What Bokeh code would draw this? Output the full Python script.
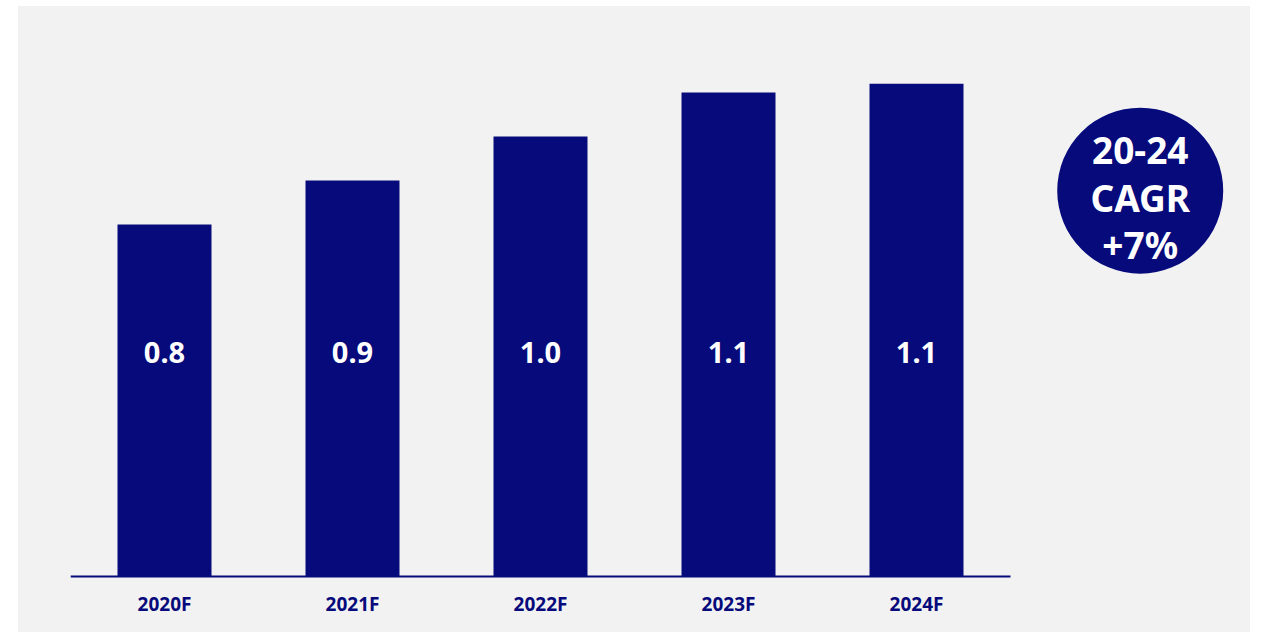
from bokeh.plotting import figure
from bokeh.models import Range1d, FixedTicker, ColumnDataSource
from bokeh.core.properties import value
from bokeh.embed import file_html
from bokeh.resources import INLINE

# ---- data ----
years = ["2020F", "2021F", "2022F", "2023F", "2024F"]
values = [0.80, 0.90, 1.00, 1.10, 1.12]
value_labels = ["0.8", "0.9", "1.0", "1.1", "1.1"]
cagr_lines = ["20-24", "CAGR", "+7%"]

NAVY = "#060A7B"
GRAY = "#F2F2F2"
FONT = "Noto Sans"

xs = list(range(len(years)))
src = ColumnDataSource(dict(x=xs, top=values, lab=value_labels,
                            ly=[0.51] * len(xs)))

p = figure(width=1232, height=626, output_backend="svg", toolbar_location=None,
           x_range=Range1d(-0.5, 5.7766), y_range=Range1d(-0.009, 1.25),
           min_border_left=52, min_border_right=0, min_border_top=20,
           min_border_bottom=52, margin=(6, 11, 1, 18))
p.background_fill_color = None
p.border_fill_color = None
p.styles = {"background-color": GRAY}
p.outline_line_color = None
p.grid.visible = False
p.yaxis.visible = False

p.vbar(x="x", top="top", bottom=0, width=0.5, source=src,
       fill_color=NAVY, line_color=None)

# baseline
p.segment(x0=[-0.5], x1=[len(years) - 0.5], y0=[0], y1=[0],
          line_color=NAVY, line_width=2)

p.text(x="x", y="ly", text="lab", source=src, text_color="white",
       text_font=value(FONT), text_font_style="bold", text_font_size="29px",
       text_align="center", text_baseline="middle")

# CAGR bubble
cx, cy = 5.19, 0.877
p.scatter(x=[cx], y=[cy], size=166, marker="circle",
          fill_color=NAVY, line_color=None)
for txt, off in zip(cagr_lines, [-40, 7, 54]):
    p.text(x=[cx], y=[cy], text=[txt], y_offset=off, text_color="white",
           text_font=value(FONT), text_font_style="bold", text_font_size="37px",
           text_align="center", text_baseline="middle")

ax = p.xaxis[0]
ax.ticker = FixedTicker(ticks=xs)
ax.major_label_overrides = {i: y for i, y in zip(xs, years)}
ax.axis_line_color = None
ax.major_tick_line_color = None
ax.minor_tick_line_color = None
ax.major_label_standoff = 4
ax.major_label_text_font = FONT
ax.major_label_text_font_style = "bold"
ax.major_label_text_font_size = "19px"
ax.major_label_text_color = NAVY

open("out.html", "w").write(file_html(p, INLINE))
